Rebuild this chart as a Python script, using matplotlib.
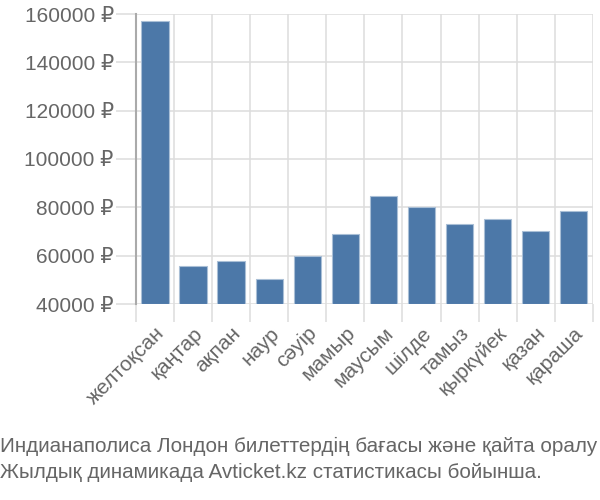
import matplotlib.pyplot as plt
import numpy as np

months = ['желтоқсан', 'қаңтар', 'ақпан', 'наур', 'сәуір', 'мамыр', 'маусым',
          'шілде', 'тамыз', 'қыркүйек', 'қазан', 'қараша']
prices = [157200, 55900, 58000, 50200, 59700, 68900, 84700,
          80300, 73000, 75100, 70400, 78600]
yticks = [40000, 60000, 80000, 100000, 120000, 140000, 160000]
caption = ['Индианаполиса Лондон билеттердің бағасы және қайта оралу',
           'Жылдық динамикада Avticket.kz статистикасы бойынша.']

plt.rcParams['font.family'] = ['Liberation Sans', 'DejaVu Sans']
grey = '#666666'
gridc = '#dddddd'

fig = plt.figure(figsize=(6, 5), dpi=100)
ax = fig.add_axes([0.2267, 0.392, 0.7613, 0.58])

x = np.arange(len(months))
ax.bar(x, np.array(prices) - 40000, bottom=40000, width=0.72,
       color='#4c78a8', edgecolor='#a9bfd6', linewidth=0.8, zorder=3)

ax.set_xlim(-0.5, len(months) - 0.5)
ax.set_ylim(40000, 160000)

ax.set_yticks(yticks)
ax.set_yticklabels([f'{v} ₽' for v in yticks], fontsize=15, color=grey)
ax.tick_params(axis='y', length=14.5, width=1.1, color=gridc, pad=1.5)

ax.set_xticks(x)
ax.set_xticklabels(months, rotation=45, ha='right', rotation_mode='anchor',
                   fontsize=15, color=grey)
ax.tick_params(axis='x', which='major', length=0, pad=14)
ax.set_xticks(np.arange(len(months) + 1) - 0.5, minor=True)
ax.tick_params(axis='x', which='minor', length=13, width=1.1, color=gridc)

ax.grid(axis='y', which='major', color=gridc, linewidth=1.1, zorder=0)
ax.grid(axis='x', which='minor', color=gridc, linewidth=1.1, zorder=0)

for s in ['top', 'right', 'bottom']:
    ax.spines[s].set_visible(False)
ax.spines['left'].set_color('#aaaaaa')
ax.spines['left'].set_linewidth(1.5)
ax.spines['left'].set_zorder(4)

fig.text(0.0, 1 - 446 / 500, caption[0], fontsize=14.85, color=grey,
         ha='left', va='center')
fig.text(0.0, 1 - 473 / 500, caption[1], fontsize=14.85, color=grey,
         ha='left', va='center')

fig.savefig('out.png', dpi=100)
